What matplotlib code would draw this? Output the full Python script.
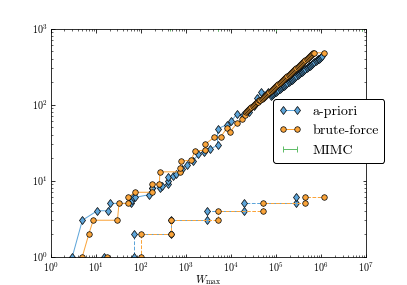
import matplotlib
matplotlib.use("Agg")
from matplotlib import pyplot as plt

plt.rcParams["font.family"] = "serif"
plt.rcParams["font.serif"] = ["cmr10", "DejaVu Serif"]
plt.rcParams["mathtext.fontset"] = "cm"
plt.rcParams["axes.formatter.use_mathtext"] = True
plt.rcParams["xtick.direction"] = "in"
plt.rcParams["ytick.direction"] = "in"
plt.rcParams["xtick.top"] = True
plt.rcParams["ytick.right"] = True

blue = "#5DA5DA"
orange = "#FAA43A"
green = "#60BD68"

# upper curves (work)
apriori_x = [3, 5, 10.7, 19, 21, 59, 62, 67, 75, 150, 173, 175, 260, 300, 405, 405, 405,
             520, 600, 800, 1030, 1400, 1870, 2500, 3400, 5000, 5000, 8000, 10000, 13400,
             18700, 25000, 32000, 38000, 46000, 66000,
             75000, 79400, 84100, 89100, 94400, 100000, 105900, 112200, 118900, 125900,
             133400, 141300, 149600, 158500, 167900, 177800, 188400, 199500, 211300,
             223900, 237100, 251200, 266100, 281800, 298500, 316200, 335000, 354800,
             375800, 398100, 421700, 446700, 473200, 501200, 530900, 562300, 595700,
             631000, 668300, 707900, 749900, 794300, 841400, 891300, 944100, 1000000,
             1059000]
apriori_y = [1, 3, 4, 4, 5, 5, 5.5, 6, 6, 6.5, 8, 8, 8, 8.5, 9, 10, 11,
             11.5, 12, 14, 16, 18, 22, 24, 26, 29, 48, 54, 60, 75,
             73, 80, 96, 122, 147, 147,
             129, 133, 136, 140, 144, 147, 151, 155, 160, 164,
             168, 173, 177, 182, 187, 192, 197, 202, 208,
             213, 219, 225, 231, 237, 244, 250, 257, 264,
             271, 278, 285, 293, 301, 309, 317, 325, 334,
             343, 352, 362, 371, 381, 391, 402, 413, 424,
             435]

brute_x = [5, 7, 8.7, 30, 32.5, 51, 52, 73, 173, 173, 255, 263, 740, 740, 770, 1280, 1600,
           2650, 2650, 4200, 5900, 8200, 9600, 13400, 17200, 20400,
           21130, 22390, 23710, 25120, 26610, 28180, 29850, 31620, 33500, 35480,
           37580, 39810, 42170, 44670, 47320, 50120, 53090, 56230, 59570, 63100,
           66830, 70790, 74990, 79430, 84140, 89130, 94410, 100000, 105900, 112200,
           118900, 125900, 133400, 141300, 149600, 158500, 167900, 177800, 188400,
           199500, 211300, 223900, 237100, 251200, 266100, 281800, 298500, 316200,
           335000, 354800, 375800, 398100, 421700, 446700, 473200, 501200, 530900,
           562300, 595700, 631000, 668300, 691800, 1170000]
brute_y = [1, 2, 3, 3, 5, 5, 6, 7, 7, 9, 9, 13, 13, 14.4, 18, 18.5, 24.6,
           25, 30, 37, 37.6, 49.6, 44, 56.5, 64, 73,
           79, 81.4, 83.9, 86.4, 89, 91.7, 94.4, 97.3, 100.2, 103.2,
           106.3, 109.5, 112.9, 116.2, 119.7, 123.4, 127, 130.9, 134.8, 138.9,
           143.1, 147.4, 151.9, 156.4, 161.2, 166, 171, 176.2, 181.5, 187,
           192.6, 198.4, 204.4, 210.6, 216.9, 223.4, 230.2, 237.1, 244.3,
           251.6, 259.2, 267, 275.1, 283.4, 291.9, 300.7, 309.8, 319.1,
           328.8, 338.7, 348.9, 359.4, 370.2, 381.4, 392.9, 404.7, 416.9,
           429.5, 442.4, 455.8, 469.5, 479, 479]

# lower curves (levels)
apriori_lvl_x = [15, 70, 70, 457, 457, 2900, 2900, 19500, 19500, 270000, 270000]
apriori_lvl_y = [1, 1, 2, 2, 3, 3, 4, 4, 5, 5, 6]
brute_lvl_x = [18, 98, 98, 464, 464, 5200, 5200, 50000, 50000, 440000, 440000, 1170000]
brute_lvl_y = [1, 1, 2, 2, 3, 3, 4, 4, 5, 5, 6, 6]

mimc_x = [440, 5000, 100000, 8000000]
mimc_y = [1010, 1010, 1010, 1010]

fig = plt.figure(figsize=(407 / 72, 285 / 72), dpi=72)
ax = fig.add_subplot(111)

ax.plot(apriori_x, apriori_y, "-d", color=blue, mec="k", mew=0.7, ms=6, lw=1.0,
        label="a-priori")
ax.plot(brute_x, brute_y, "-o", color=orange, mec="k", mew=0.7, ms=5.5, lw=1.0,
        label="brute-force")
ax.plot(mimc_x, mimc_y, "-|", color=green, mec=green, lw=1.0, label="MIMC")
ax.plot(apriori_lvl_x, apriori_lvl_y, "--d", color=blue, mec="k", mew=0.7, ms=6, lw=1.0)
ax.plot(brute_lvl_x, brute_lvl_y, "--o", color=orange, mec="k", mew=0.7, ms=5.5, lw=1.0)

ax.set_xscale("log")
ax.set_yscale("log")
ax.set_xlim(1, 1e7)
ax.set_ylim(1, 1e3)
ax.set_xlabel(r"$W_{\max}$", fontsize=11, labelpad=0)
ax.tick_params(labelsize=10)

ax.legend(loc="upper left", bbox_to_anchor=(0.705, 0.69), numpoints=2, fontsize=14,
          fancybox=True, edgecolor="k", framealpha=1, borderaxespad=0,
          handlelength=1.6)

fig.subplots_adjust(left=0.125, right=0.9, bottom=0.1, top=0.9)
fig.savefig("out.png", dpi=72)
